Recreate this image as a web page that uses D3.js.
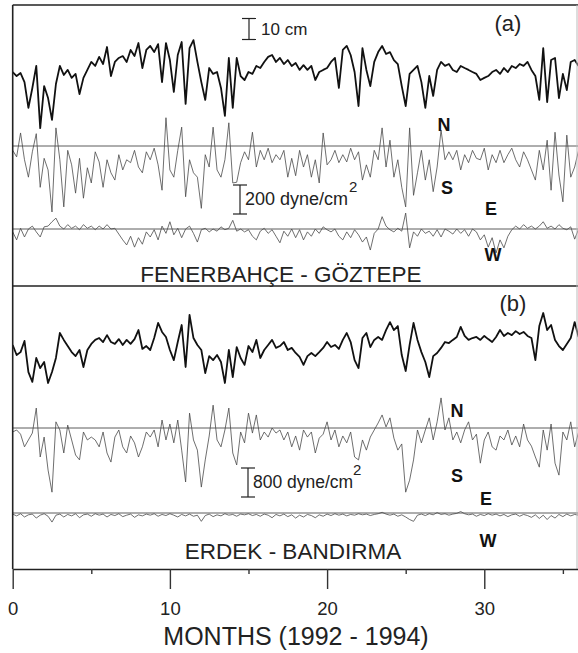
<!DOCTYPE html>
<html>
<head>
<meta charset="utf-8">
<script src="https://cdn.jsdelivr.net/npm/d3@7"></script>
<style>
  body { margin: 0; background: #fff; }
  svg { display: block; font-family: "Liberation Sans", Arial, sans-serif; }
</style>
</head>
<body>
<div id="app"></div>
<script>
const w = 578;
const h = 653;

// sampling step of all series, in months
const step = 0.25;

// (a) FENERBAHCE - GOZTEPE
// sea level, cm
const seaLevelA = [
  3.8, 1.9, 3.3, -1.0, -13.3, -3.8, 6.7, -22.9, -2.9, -8.6, -19.0, -1.9,
  6.7, 2.4, 4.8, 1.0, 2.9, -6.7, 1.0, 4.8, 8.6, 6.7, 11.0, 7.6,
  15.7, 1.9, 8.6, 10.5, 11.4, 8.6, 14.3, 11.4, 17.6, 5.7, 14.3, 16.2,
  13.3, 17.1, -1.0, 17.6, 9.5, -5.7, 11.9, 18.1, -11.4, 15.2, 19.0, 8.6,
  -1.0, -9.5, 5.7, 2.9, 3.8, -3.8, -17.1, 10.5, -13.3, 10.5, 1.9, 0,
  3.8, 2.9, 6.7, 5.7, 8.6, 11.0, 11.9, 8.6, 10.5, 7.6, 9.5, 6.7,
  8.1, 4.8, 7.1, 4.8, 6.7, 0, 3.8, 4.8, 5.7, 8.6, 10.5, -3.8,
  14.3, 16.2, 11.9, 3.8, -12.4, 15.2, 4.8, -2.9, 8.6, 13.3, 16.2, 12.4,
  13.3, 9.5, 7.6, -2.9, -12.4, 2.9, 4.8, 6.7, -1.0, -13.3, 1.9, -7.6,
  4.8, 8.6, 6.7, 7.6, 4.8, 3.8, 6.7, 5.7, 4.8, 3.8, 2.9, 0,
  1.0, 1.9, 3.8, 4.8, 2.9, 5.7, 3.8, 6.7, 5.7, 7.6, 6.7, 8.6,
  4.8, 1.9, -9.5, 15.2, -10.5, 9.5, 10.5, -8.6, 2.9, -4.8, 8.6, 9.5,
  6.7
];
// north-south wind stress, dyne/cm2
const stressNSA = [
  -30, -75, 90, -95, -215, -40, 85, -285, -85, -165, -455, 125,
  -95, -420, -30, -130, -325, -85, -360, -150, -255, -40, -110, -285,
  -95, -185, -235, -60, -165, -95, -115, -30, -145, -185, -40, -95,
  -15, -130, -305, 195, -165, -215, -30, 130, -350, -95, -185, -215,
  -430, -60, -145, 130, -165, -215, -95, 160, -255, -250, -115, -40,
  -95, 95, -145, -30, -95, -15, -115, -60, -95, -30, -215, -85,
  -205, -30, -145, -60, -215, -95, -255, 90, -130, -95, -30, -115,
  -60, -110, -15, -95, -40, -235, -130, -215, -30, -95, 125, -145,
  40, -215, -95, -285, -420, 125, -340, -185, -30, -235, -95, -315,
  -145, 110, -95, -40, -95, -30, -165, -60, -115, -30, -85, -95,
  -15, -165, -60, -115, -30, -115, -60, -15, -95, -145, -40, -95,
  -165, -235, -30, -165, 40, -305, 95, -200, -385, 75, -215, -145,
  -30
];
// east-west wind stress, dyne/cm2
const stressEWA = [
  -20, -75, 5, -55, 0, 20, -20, -55, 15, 20, 50, 75,
  20, 0, 30, 5, 20, -5, 30, 5, 20, -5, 20, 0,
  30, 0, 5, -35, -75, -110, -50, -125, -60, -105, -20, -55,
  -5, -75, 20, -30, 50, -40, 5, -60, 0, 20, -30, -90,
  -5, 5, -20, 0, -15, 15, -5, 5, 60, -15, 0, -20,
  -5, -50, -75, -15, 5, -30, -5, -50, -95, -15, -50, 0,
  -60, -5, -75, -20, -50, 0, -30, 15, -5, -20, 0, -50,
  -75, -20, -60, -5, -40, -90, -55, -145, -30, 0, 85, 20,
  -5, -20, 5, -15, 110, -130, -20, -50, 0, -30, -15, -50,
  -5, -55, 0, -15, -35, 0, -30, -5, -50, 0, -20, -75,
  -40, -125, -60, -165, -75, -130, -50, -5, 20, 0, 30, 5,
  20, 0, 20, 50, 5, 20, 0, 30, 5, -5, 15, -70,
  0
];

// (b) ERDEK - BANDIRMA
const seaLevelB = [
  2.4, -2.4, -1.0, 4.3, -10.5, -15.2, -3.8, -8.6, -5.7, -15.7, -10.5, -3.8,
  8.1, 4.8, 1.9, -1.0, -2.9, 0, -8.1, 0, 2.9, 4.8, 5.7, 3.8,
  7.1, 3.8, 2.9, 5.2, 2.4, 4.8, 2.9, 5.2, 9.5, 0.5, 1.9, 0,
  5.7, 12.9, 8.6, 6.2, 0, -4.8, 3.8, 11.9, -8.1, 16.7, 5.7, 2.4,
  0, -11.0, -2.9, -4.8, -2.4, -5.7, -15.7, 0, -12.9, 1.4, -3.8, -7.1,
  1.9, -1.0, 4.8, -3.8, 0, 2.4, 4.8, 1.0, 1.9, 3.8, 0, 1.0,
  -1.4, -3.3, -7.1, -2.9, -1.4, -2.9, -1.0, 1.0, 3.8, 1.4, 2.4, 0.5,
  4.8, 8.1, 3.8, -4.8, -8.6, 5.7, 8.1, 1.4, 4.8, 6.2, 4.8, 9.5,
  13.3, 9.5, 11.4, -2.4, -10.0, 2.4, 12.9, 4.8, -1.0, -5.7, -12.9, -2.9,
  -1.4, 1.0, 3.8, 3.3, 4.8, 6.2, 11.0, 6.7, 4.8, 5.7, 6.2, 4.8,
  6.7, 5.2, 3.8, 6.2, 9.5, 6.7, 8.1, 7.1, 9.0, 7.6, 8.6, 6.7,
  5.7, -4.8, 11.4, 17.6, 9.5, 11.9, 4.8, 1.9, 0, 2.9, 5.7, 13.3,
  6.2
];
const stressNSB = [
  -110, -55, -170, -520, -330, -140, 550, -800, -250, -1160, -1770, 170,
  -55, -690, 80, -330, -745, -880, -110, -330, -250, -330, -520, -110,
  -690, -940, -250, -55, -520, -690, -220, -410, -800, -520, -110, -250,
  -55, -520, 220, -330, 110, -410, 220, -610, -1490, 410, -330, -610,
  -1630, -880, -220, 630, -330, -520, -55, 550, -690, -1020, -110, -410,
  410, -140, 360, -330, -110, -250, 0, -140, -55, -330, -110, -520,
  -220, -610, -55, -250, -110, -690, -280, -170, 170, -330, -55, -520,
  -220, -410, -110, -800, -880, -330, -610, -250, -55, 140, 360, 30,
  280, -280, -610, -440, -1770, -1440, -880, -55, -410, -55, 280, -330,
  170, 830, -55, 280, -330, -110, -410, -55, 170, -330, -170, -970,
  -330, -110, -520, -610, -220, -330, -55, -470, -220, -520, 110, -330,
  -500, -800, -1080, -55, -610, 110, -970, -1300, -110, -330, 170, -520,
  -110
];
const stressEWB = [
  -30, -80, -20, -110, -50, -30, -140, -60, -20, -90, -250, -60,
  -30, -110, -40, -80, -20, -130, -50, -30, -90, -20, -60, -30,
  -110, -40, -70, -20, -100, -60, -30, -120, -50, -80, -30, -60,
  -20, -90, -40, -70, -20, -60, -110, -40, -80, -30, -90, -60,
  -230, -70, -30, -100, -50, -80, -20, -60, -40, -90, -30, -50,
  -20, -70, -40, -90, -30, -60, -130, -40, -80, -30, -100, -50,
  -140, -60, -110, -40, -70, -130, -50, -90, -30, -70, -20, -60,
  -30, -80, -40, -60, -20, -50, -30, -70, -40, -20, 20, -30,
  -60, -30, -90, -50, -110, -180, -230, -60, -30, -70, -20, -50,
  10, -40, -20, -60, -30, -10, 40, -20, -50, -30, -90, -40,
  -70, -20, -60, -30, -80, -40, -100, -50, -30, -90, -40, -70,
  -120, -50, -150, -60, -180, -70, -140, -40, -100, -30, -80, -40,
  -60
];

const majorTicks = [0, 10, 20, 30];
const minorTicks = [5, 15, 25, 35];

//////////SVG//////////

const svg = d3.select('#app')
  .append('svg')
  .attr('width', w)
  .attr('height', h);

svg.append('rect').attr('width', w).attr('height', h).attr('fill', '#fff');

const plotLeft = 12.7;
const plotRight = 578.6;
const plotTop = 5;
const plotMid = 286;
const plotBottom = 569;

const x = d3.scaleLinear().domain([0, 36]).range([plotLeft, plotRight]);

// vertical scales: one per trace, each centred on its own zero line
const cmScale = (y0) => d3.scaleLinear().domain([-10, 10]).range([y0 + 21, y0 - 21]);
const stressScale = (y0, bar) => d3.scaleLinear().domain([-bar, bar]).range([y0 + 29, y0 - 29]);

const traces = [
  { data: seaLevelA, y: cmScale(80), cls: 'sea' },
  { data: stressNSA, y: stressScale(146, 200), cls: 'stress', zero: true },
  { data: stressEWA, y: stressScale(229, 200), cls: 'stress', zero: true },
  { data: seaLevelB, y: cmScale(350), cls: 'sea' },
  { data: stressNSB, y: stressScale(428, 800), cls: 'stress', zero: true },
  { data: stressEWB, y: stressScale(513, 800), cls: 'stress', zero: true }
];

//////////ZERO LINES//////////

svg.selectAll('line.zero')
  .data(traces.filter((t) => t.zero))
  .enter()
  .append('line')
  .attr('class', 'zero')
  .attr('x1', plotLeft)
  .attr('x2', w)
  .attr('y1', (d) => d.y(0))
  .attr('y2', (d) => d.y(0))
  .attr('stroke', '#333')
  .attr('stroke-width', 0.8);

//////////TRACES//////////

traces.forEach((t) => {
  const line = d3.line()
    .x((d, i) => x(i * step))
    .y((d) => t.y(d));

  svg.append('path')
    .datum(t.data)
    .attr('class', t.cls)
    .attr('fill', 'none')
    .attr('stroke', t.cls === 'sea' ? '#111' : '#4a4a4a')
    .attr('stroke-width', t.cls === 'sea' ? 1.8 : 0.8)
    .attr('stroke-linejoin', 'round')
    .attr('d', line);
});

//////////FRAME//////////

const frame = svg.append('g')
  .attr('stroke', '#222')
  .attr('stroke-width', 1.6);

frame.append('line').attr('x1', plotLeft).attr('x2', plotLeft).attr('y1', plotTop).attr('y2', plotBottom);
frame.append('line').attr('x1', plotLeft).attr('x2', w).attr('y1', plotTop).attr('y2', plotTop);
frame.append('line').attr('x1', plotLeft).attr('x2', w).attr('y1', plotMid).attr('y2', plotMid);

svg.append('line')
  .attr('x1', 577).attr('x2', 577).attr('y1', plotTop).attr('y2', plotBottom)
  .attr('stroke', '#bbb').attr('stroke-width', 1);

//////////AXIS//////////

const axis = svg.append('g')
  .attr('transform', `translate(0,${plotBottom})`)
  .call(d3.axisBottom(x).tickValues(majorTicks).tickSize(20).tickSizeOuter(0).tickPadding(13));

axis.select('.domain').attr('stroke', '#222').attr('stroke-width', 1.6);
axis.selectAll('.tick line').attr('stroke', '#333').attr('stroke-width', 1.4);
axis.selectAll('.tick text')
  .attr('font-size', 18.5)
  .attr('font-family', '"Liberation Sans", Arial, sans-serif')
  .attr('fill', '#222');

const minor = svg.append('g')
  .attr('transform', `translate(0,${plotBottom})`)
  .call(d3.axisBottom(x).tickValues(minorTicks).tickSize(5).tickSizeOuter(0).tickFormat(''));

minor.select('.domain').remove();
minor.selectAll('.tick line').attr('stroke', '#333').attr('stroke-width', 1.4);

svg.append('text')
  .attr('x', 296)
  .attr('y', 645)
  .attr('text-anchor', 'middle')
  .attr('font-size', 25)
  .attr('fill', '#222')
  .text('MONTHS (1992 - 1994)');

//////////SCALE BARS//////////

const scaleBars = [
  { x: 249, y1: 18.5, y2: 39.5 },
  { x: 240, y1: 185, y2: 214 },
  { x: 248, y1: 468, y2: 497 }
];

scaleBars.forEach((b) => {
  const g = svg.append('g').attr('stroke', '#222').attr('stroke-width', 1.2);
  g.append('line').attr('x1', b.x).attr('x2', b.x).attr('y1', b.y1).attr('y2', b.y2);
  g.append('line').attr('x1', b.x - 7).attr('x2', b.x + 7).attr('y1', b.y1).attr('y2', b.y1);
  g.append('line').attr('x1', b.x - 7).attr('x2', b.x + 7).attr('y1', b.y2).attr('y2', b.y2);
});

const labels = [
  { x: 261, y: 35, size: 17, text: '10 cm' },
  { x: 245, y: 205, size: 18, text: '200 dyne/cm' },
  { x: 349, y: 192, size: 15, text: '2' },
  { x: 253, y: 488, size: 17.5, text: '800 dyne/cm' },
  { x: 353, y: 475, size: 15, text: '2' },
  { x: 508, y: 31, size: 22, text: '(a)', anchor: 'middle' },
  { x: 513, y: 311, size: 22, text: '(b)', anchor: 'middle' },
  { x: 281, y: 282, size: 22.5, text: 'FENERBAHÇE - GÖZTEPE', anchor: 'middle' },
  { x: 293, y: 559, size: 22.5, text: 'ERDEK - BANDIRMA', anchor: 'middle' }
];

svg.selectAll('text.label')
  .data(labels)
  .enter()
  .append('text')
  .attr('class', 'label')
  .attr('x', (d) => d.x)
  .attr('y', (d) => d.y)
  .attr('font-size', (d) => d.size)
  .attr('text-anchor', (d) => d.anchor || 'start')
  .attr('fill', '#222')
  .text((d) => d.text);

//////////COMPASS LETTERS//////////

const compass = [
  { x: 444, y: 131, text: 'N' },
  { x: 447, y: 194, text: 'S' },
  { x: 491, y: 215, text: 'E' },
  { x: 493, y: 261, text: 'W' },
  { x: 457, y: 417, text: 'N' },
  { x: 457, y: 482, text: 'S' },
  { x: 486, y: 505, text: 'E' },
  { x: 488, y: 547, text: 'W' }
];

svg.selectAll('text.compass')
  .data(compass)
  .enter()
  .append('text')
  .attr('class', 'compass')
  .attr('x', (d) => d.x)
  .attr('y', (d) => d.y)
  .attr('text-anchor', 'middle')
  .attr('font-size', 18)
  .attr('font-weight', 'bold')
  .attr('fill', '#111')
  .text((d) => d.text);
</script>
</body>
</html>
